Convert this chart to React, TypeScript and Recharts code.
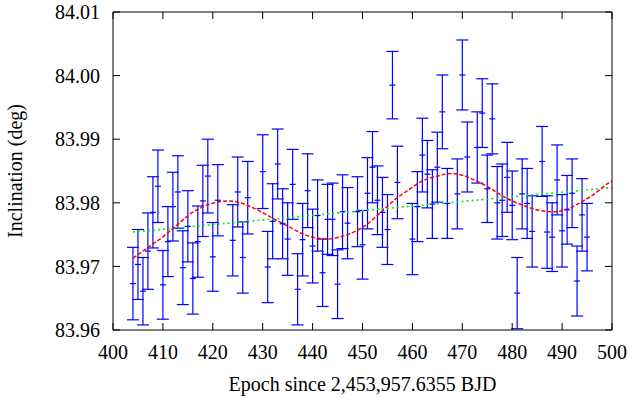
import { ComposedChart, Scatter, Line, XAxis, YAxis, ErrorBar, Label } from 'recharts'

// transit epochs, fitted inclination and 1-sigma errors
const epochs = [
  404, 405, 406, 407, 408, 409, 410, 411, 412, 413, 414, 415, 416, 417, 418, 419, 420, 421,
  424, 425, 426, 427, 430, 431, 432, 433, 434, 435, 436, 437, 438, 439, 440, 441, 442, 443,
  444, 445, 446, 447, 449, 450, 451, 452, 453, 454, 455, 456, 457, 460, 461, 462, 463, 464,
  465, 466, 467, 469, 470, 471, 473, 474, 475, 476, 477, 478, 479, 480, 481, 482, 483, 484,
  486, 487, 488, 489, 490, 491, 492, 493, 494, 495,
]
const incl = [
  83.9673, 83.9703, 83.9661, 83.9724, 83.9785, 83.9826, 83.9671, 83.9739, 83.9794, 83.9817,
  83.9698, 83.9763, 83.9681, 83.9739, 83.9803, 83.9842, 83.9715, 83.9804,
  83.9741, 83.9817, 83.9714, 83.9808, 83.9849, 83.9699, 83.9771, 83.9861, 83.9767, 83.9743,
  83.9829, 83.9664, 83.9742, 83.9819, 83.9732, 83.978, 83.969, 83.9774,
  83.9774, 83.9672, 83.9786, 83.9768, 83.9786, 83.9734, 83.9815, 83.9856, 83.9804, 83.9785,
  83.9758, 83.9985, 83.9832, 83.9743, 83.9794, 83.9875, 83.9845, 83.9798,
  83.9856, 83.9943, 83.9799, 83.9814, 84.0001, 83.9872, 83.9887, 83.9941, 83.9822, 83.9932,
  83.98, 83.9804, 83.984, 83.9796, 83.9658, 83.9814, 83.9799, 83.9755,
  83.9865, 83.9754, 83.9746, 83.9836, 83.9756, 83.9789, 83.9815, 83.9677, 83.9781, 83.9746,
]
const inclErr = [
  0.0057, 0.0055, 0.0053, 0.006, 0.0056, 0.0057, 0.0054, 0.0055, 0.0054, 0.0057,
  0.0058, 0.0056, 0.0056, 0.0056, 0.0056, 0.0058, 0.0054, 0.0056,
  0.0056, 0.0055, 0.0056, 0.0057, 0.0058, 0.0056, 0.0059, 0.0055, 0.0055, 0.0057,
  0.0055, 0.0056, 0.0057, 0.0058, 0.0058, 0.0056, 0.0053, 0.0055,
  0.0057, 0.0054, 0.0058, 0.0056, 0.0055, 0.0054, 0.0056, 0.0056, 0.0054, 0.0055,
  0.0055, 0.0053, 0.0057, 0.0056, 0.0055, 0.0058, 0.0053, 0.0054,
  0.0055, 0.0058, 0.0055, 0.0055, 0.0055, 0.0055, 0.0056, 0.0054, 0.0053, 0.0055,
  0.0057, 0.0057, 0.0055, 0.0054, 0.0056, 0.0055, 0.0055, 0.0056,
  0.0055, 0.0057, 0.0054, 0.0055, 0.0057, 0.0054, 0.0054, 0.0055, 0.0057, 0.0053,
]

// sinusoidal model (red dashed)
const sineX = [
  404, 407.4, 410.1, 412.8, 415.4, 418.1, 420.8, 423.1, 425.5, 428.1, 430.8, 433.1, 435.1,
  437.8, 440.5, 443.1, 445.8, 448.5, 451.2, 453.8, 456.5, 459.2, 461.9, 464.5, 467.9, 470.2,
  472.9, 475.6, 478.2, 480.9, 483.6, 486.2, 488.6, 490.9, 493.6, 496.3, 499.3, 500,
]
const sineY = [
  83.9713, 83.9732, 83.9747, 83.9765, 83.9782, 83.9794, 83.9801, 83.9803, 83.98, 83.9792,
  83.9781, 83.9771, 83.9763, 83.9752, 83.9745, 83.9743, 83.9747, 83.9755, 83.9768, 83.9786,
  83.9805, 83.982, 83.9834, 83.9841, 83.9846, 83.9843, 83.9834, 83.9823, 83.981, 83.98,
  83.9792, 83.9787, 83.9786, 83.979, 83.98, 83.9813, 83.9831, 83.9834,
]

// linear trend (green dotted)
const trendX = [404, 500]
const trendY = [83.9754, 83.9824]

const xTicks = [400, 410, 420, 430, 440, 450, 460, 470, 480, 490, 500]
const yTicks = [83.96, 83.97, 83.98, 83.99, 84.0, 84.01]

const FONT = '"Liberation Serif", "Times New Roman", serif'
const BLUE = '#0000ff'
const tickStyle = { fill: '#000', fontSize: 20, fontFamily: FONT }

function Cross(props: any) {
  const { cx, cy } = props
  return <line x1={cx - 3} x2={cx + 3} y1={cy} y2={cy} stroke={BLUE} strokeWidth={1.2} />
}

export default function App() {
  const points = epochs.map((x, i) => ({ x, y: incl[i], err: inclErr[i] }))
  const sine = sineX.map((x, i) => ({ x, y: sineY[i] }))
  const trend = trendX.map((x, i) => ({ x, y: trendY[i] }))

  return (
    <div style={{ position: 'absolute', left: 0, top: 0, width: 629, height: 398, background: '#fff' }}>
      <ComposedChart width={629} height={398} margin={{ top: 11, right: 16, bottom: 0, left: 13 }}>
        <XAxis
          dataKey="x"
          type="number"
          domain={[400, 500]}
          ticks={xTicks}
          allowDataOverflow
          height={68}
          tickSize={-7}
          tickMargin={22}
          tick={tickStyle}
          stroke="#000"
        >
          <Label
            content={({ viewBox }: any) => (
              <text
                x={viewBox.x + viewBox.width / 2}
                y={viewBox.y + 61}
                textAnchor="middle"
                fontFamily={FONT}
                fontSize={20}
                fill="#000"
              >
                Epoch since 2,453,957.6355 BJD
              </text>
            )}
          />
        </XAxis>
        <XAxis
          xAxisId="top"
          dataKey="x"
          type="number"
          orientation="top"
          domain={[400, 500]}
          ticks={xTicks}
          allowDataOverflow
          height={1}
          tickSize={-7}
          tickFormatter={() => ''}
          stroke="#000"
        />
        <YAxis
          dataKey="y"
          type="number"
          domain={[83.96, 84.01]}
          ticks={yTicks}
          allowDataOverflow
          width={100}
          tickSize={-7}
          tickMargin={20}
          tick={tickStyle}
          tickFormatter={(v: number) => v.toFixed(2)}
          stroke="#000"
        >
          <Label
            content={({ viewBox }: any) => {
              const cy = viewBox.y + viewBox.height / 2
              return (
                <text
                  x={22}
                  y={cy}
                  transform={`rotate(-90, 22, ${cy})`}
                  textAnchor="middle"
                  fontFamily={FONT}
                  fontSize={20}
                  fill="#000"
                >
                  Inclination (deg)
                </text>
              )
            }}
          />
        </YAxis>
        <YAxis
          yAxisId="right"
          dataKey="y"
          type="number"
          orientation="right"
          domain={[83.96, 84.01]}
          ticks={yTicks}
          allowDataOverflow
          width={1}
          tickSize={-7}
          tickFormatter={() => ''}
          stroke="#000"
        />
        <Scatter data={points} dataKey="y" fill={BLUE} shape={Cross} isAnimationActive={false}>
          <ErrorBar dataKey="err" direction="y" width={6} stroke={BLUE} strokeWidth={1.2} />
        </Scatter>
        <Line
          data={trend}
          dataKey="y"
          type="linear"
          stroke="#00ee00"
          strokeWidth={1.6}
          strokeDasharray="2 3"
          dot={false}
          isAnimationActive={false}
        />
        <Line
          data={sine}
          dataKey="y"
          type="monotone"
          stroke="#ff0000"
          strokeWidth={1.5}
          strokeDasharray="4 2"
          dot={false}
          isAnimationActive={false}
        />
      </ComposedChart>
    </div>
  )
}
